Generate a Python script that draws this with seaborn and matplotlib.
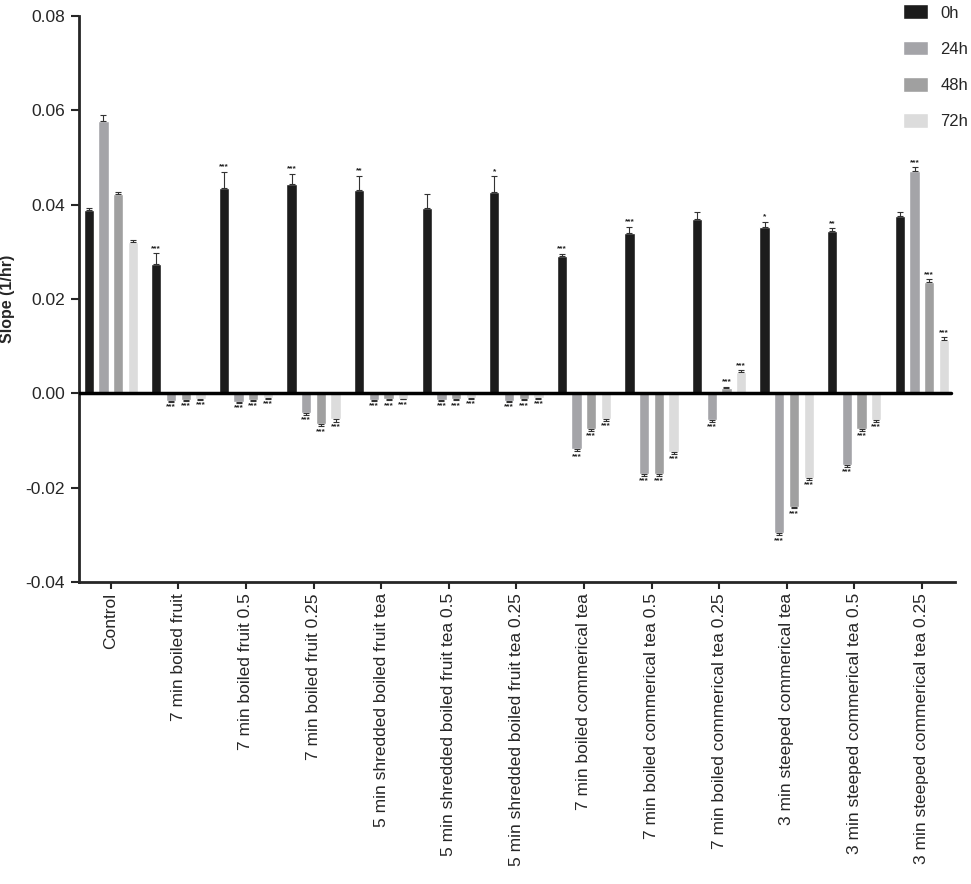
import pandas as pd
import numpy as np
import matplotlib
matplotlib.use('Agg')
import matplotlib.pyplot as plt
import seaborn as sns

groups = ['Control', '7 min boiled fruit', '7 min boiled fruit 0.5', '7 min boiled fruit 0.25',
          '5 min shredded boiled fruit tea', '5 min shredded boiled fruit tea 0.5',
          '5 min shredded boiled fruit tea 0.25', '7 min boiled commerical tea',
          '7 min boiled commerical tea 0.5', '7 min boiled commerical tea 0.25',
          '3 min steeped commerical tea', '3 min steeped commerical tea 0.5',
          '3 min steeped commerical tea 0.25']
times = ['0h', '24h', '48h', '72h']

slope_0h = [0.0389, 0.0274, 0.0436, 0.0444, 0.0431, 0.0393, 0.0427, 0.0291, 0.0339, 0.0370, 0.0352, 0.0345, 0.0376]
slope_24h = [0.0577, -0.0016, -0.0018, -0.0041, -0.0014, -0.0014, -0.0016, -0.0119, -0.0170, -0.0057, -0.0297, -0.0152, 0.0472]
slope_48h = [0.0422, -0.0014, -0.0014, -0.0065, -0.0013, -0.0013, -0.0013, -0.0076, -0.0170, 0.0011, -0.0240, -0.0076, 0.0237]
slope_72h = [0.0321, -0.0012, -0.0010, -0.0055, -0.0011, -0.0010, -0.0010, -0.0055, -0.0124, 0.0046, -0.0180, -0.0057, 0.0114]

err_0h = [0.0003, 0.0023, 0.0034, 0.0021, 0.0030, 0.0029, 0.0033, 0.0005, 0.0014, 0.0015, 0.0012, 0.0005, 0.0009]
err_24h = [0.0013, 0.0002, 0.0002, 0.0005, 0.0002, 0.0002, 0.0002, 0.0004, 0.0005, 0.0004, 0.0004, 0.0004, 0.0007]
err_48h = [0.0004, 0.0002, 0.0002, 0.0005, 0.0002, 0.0002, 0.0002, 0.0004, 0.0005, 0.0003, 0.0004, 0.0004, 0.0005]
err_72h = [0.0004, 0.0002, 0.0002, 0.0005, 0.0002, 0.0002, 0.0002, 0.0003, 0.0004, 0.0003, 0.0004, 0.0003, 0.0005]

stars_0h = ['', '***', '***', '***', '**', '', '*', '***', '***', '', '*', '**', '']
stars_24h = [''] + ['***'] * 12
stars_48h = [''] + ['***'] * 12
stars_72h = [''] + ['***'] * 12

colors = ['#1c1c1c', '#a4a4a8', '#a0a0a0', '#dcdcdc']

df = pd.DataFrame({
    'group': groups * 4,
    'time': np.repeat(times, len(groups)),
    'slope': slope_0h + slope_24h + slope_48h + slope_72h,
})
errs = [err_0h, err_24h, err_48h, err_72h]
stars = [stars_0h, stars_24h, stars_48h, stars_72h]

sns.set_style('ticks')
plt.rcParams['font.family'] = ['Liberation Sans', 'DejaVu Sans']

fig = plt.figure(figsize=(9.71, 8.84), dpi=100)
ax = fig.add_axes([0.0814, 0.3416, 0.9021, 0.6403])

sns.barplot(data=df, x='group', y='slope', hue='time', order=groups, hue_order=times,
            palette=colors, width=0.87, gap=0.3, errorbar=None, saturation=1, ax=ax)

# error bars and significance marks on top of seaborn's bars
bar_conts = list(ax.containers)
for i, cont in enumerate(bar_conts):
    for j, bar in enumerate(cont):
        x = bar.get_x() + bar.get_width() / 2
        h = bar.get_height()
        e = errs[i][j]
        if h >= 0:
            yerr = [[0], [e]]
            ty = h + e + 0.0003
            va = 'bottom'
        else:
            yerr = [[e], [0]]
            ty = h - e - 0.0003
            va = 'top'
        ax.errorbar(x, h, yerr=yerr, fmt='none', ecolor='#333333', elinewidth=0.8, capsize=2, capthick=0.8)
        if stars[i][j]:
            ax.text(x, ty, stars[i][j], ha='center', va=va, fontsize=6, fontweight='bold', color='#222222')

ax.axhline(0, color='black', linewidth=2.5, xmin=0, xmax=0.995, zorder=5)

ax.set_ylim(-0.04, 0.08)
ax.set_xlim(-0.47, 12.49)
ax.set_yticks([-0.04, -0.02, 0.0, 0.02, 0.04, 0.06, 0.08])
ax.set_yticklabels(['%.2f' % t for t in [-0.04, -0.02, 0.0, 0.02, 0.04, 0.06, 0.08]], fontsize=12.5)
ax.set_xticks(range(len(groups)))
ax.set_xticklabels(groups, rotation=90, fontsize=12.5)
ax.set_xlabel('')
ax.set_ylabel('Slope (1/hr)', fontsize=11.5, fontweight='bold', labelpad=8)

sns.despine(ax=ax)
ax.spines['left'].set_linewidth(2)
ax.spines['bottom'].set_linewidth(2)
ax.tick_params(axis='y', length=6, width=1.5, pad=4)
ax.tick_params(axis='x', length=5, width=1.5, pad=3)

handles, labels = ax.get_legend_handles_labels()
ax.legend_.remove()
fig.legend(handles, labels, loc='upper left', bbox_to_anchor=(0.915, 1.012), frameon=False,
           fontsize=12, handlelength=1.5, handleheight=1.0, handletextpad=0.7, labelspacing=1.2)

fig.savefig('out.png', dpi=100)
